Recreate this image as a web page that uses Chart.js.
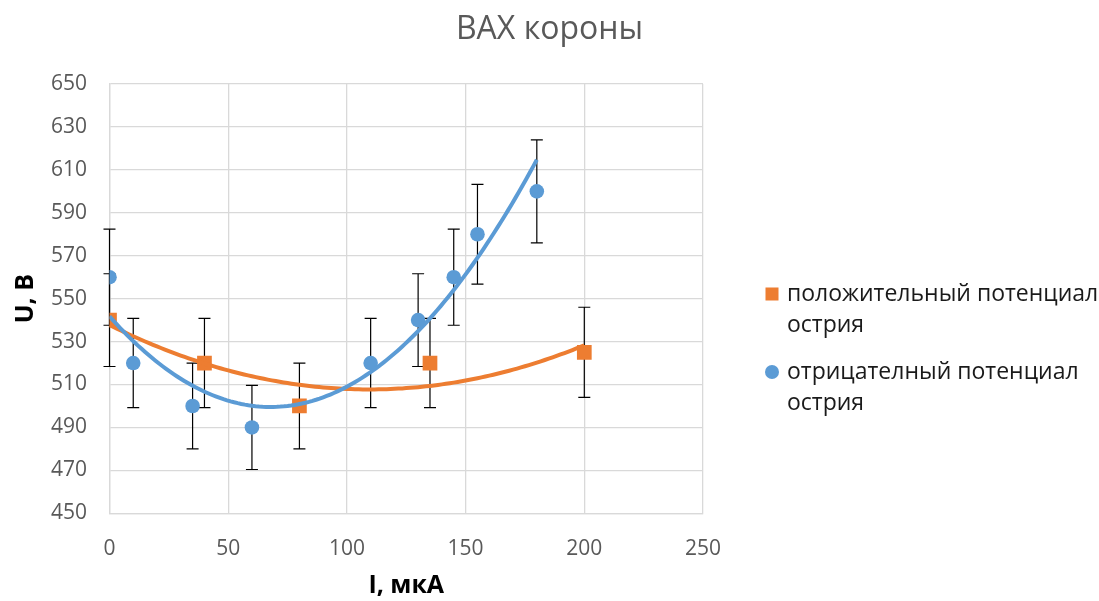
<!DOCTYPE html>
<html>
<head>
<meta charset="utf-8">
<script src="https://cdn.jsdelivr.net/npm/chart.js@4.4.1/dist/chart.umd.min.js"></script>
<style>
  html, body { margin: 0; padding: 0; background: #ffffff; }
  #wrap { width: 1099px; height: 601px; }
</style>
</head>
<body>
<div id="wrap"><canvas id="c" width="1099" height="601"></canvas></div>
<script>
// ---- data ----
const chartTitle = 'ВАХ короны';
const xAxisTitle = 'I, мкА';
const yAxisTitle = 'U, В';

const posLabel = ['положительный потенциал', 'острия'];
const posI = [0, 40, 80, 135, 200];
const posU = [540, 520, 500, 520, 525];
const posErr = [21.6, 20.8, 20, 20.8, 21];

const negLabel = ['отрицателный потенциал', 'острия'];
const negI = [0, 10, 35, 60, 110, 130, 145, 155, 180];
const negU = [560, 520, 500, 490, 520, 540, 560, 580, 600];
const negErr = [22.4, 20.8, 20, 19.6, 20.8, 21.6, 22.4, 23.2, 24];

const xMin = 0, xMax = 250, xStep = 50;
const yMin = 450, yMax = 650, yStep = 20;

const orange = '#ED7D31';
const blue = '#5B9BD5';
const FONT = "'Open Sans', 'Noto Sans', sans-serif";

// ---- polynomial (order 2) least-squares trendline, as in the spreadsheet ----
function polyFit2(xs, ys) {
  let s = [0,0,0,0,0], t = [0,0,0];
  for (let i = 0; i < xs.length; i++) {
    const x = xs[i], y = ys[i];
    let p = 1;
    for (let k = 0; k < 5; k++) { s[k] += p; if (k < 3) t[k] += p * y; p *= x; }
  }
  const A = [[s[0], s[1], s[2], t[0]], [s[1], s[2], s[3], t[1]], [s[2], s[3], s[4], t[2]]];
  for (let i = 0; i < 3; i++) {
    let m = i;
    for (let r = i + 1; r < 3; r++) if (Math.abs(A[r][i]) > Math.abs(A[m][i])) m = r;
    [A[i], A[m]] = [A[m], A[i]];
    for (let r = 0; r < 3; r++) {
      if (r === i) continue;
      const f = A[r][i] / A[i][i];
      for (let c = i; c < 4; c++) A[r][c] -= f * A[i][c];
    }
  }
  return [A[0][3] / A[0][0], A[1][3] / A[1][1], A[2][3] / A[2][2]];
}
function trendPoints(xs, ys) {
  const c = polyFit2(xs, ys);
  const x0 = Math.min(...xs), x1 = Math.max(...xs);
  const pts = [];
  const n = 120;
  for (let i = 0; i <= n; i++) {
    const x = x0 + (x1 - x0) * i / n;
    pts.push({ x: x, y: c[0] + c[1] * x + c[2] * x * x });
  }
  return pts;
}
const toPts = (xs, ys) => xs.map((x, i) => ({ x: x, y: ys[i] }));

// ---- plugins ----
const errorBars = {
  id: 'errorBars',
  beforeDatasetsDraw(chart) {
    const ctx = chart.ctx, xs = chart.scales.x, ys = chart.scales.y;
    ctx.save();
    ctx.strokeStyle = '#000000';
    ctx.lineWidth = 1.2;
    chart.data.datasets.forEach(ds => {
      if (!ds.errors) return;
      ds.data.forEach((p, i) => {
        const e = ds.errors[i];
        const px = xs.getPixelForValue(p.x);
        const top = ys.getPixelForValue(p.y + e);
        const bot = ys.getPixelForValue(p.y - e);
        const cap = 6;
        ctx.beginPath();
        ctx.moveTo(px, top); ctx.lineTo(px, bot);
        ctx.moveTo(px - cap, top); ctx.lineTo(px + cap, top);
        ctx.moveTo(px - cap, bot); ctx.lineTo(px + cap, bot);
        ctx.stroke();
      });
    });
    ctx.restore();
  }
};

const sideLegend = {
  id: 'sideLegend',
  afterDraw(chart) {
    const ctx = chart.ctx;
    const items = chart.data.datasets.filter(ds => ds.legendIndex !== undefined)
      .sort((a, b) => a.legendIndex - b.legendIndex);
    const x0 = 772, textX = 787;
    const firstY = 294, lineH = 31, gap = 16;
    let y = firstY;
    ctx.save();
    ctx.font = '23px ' + FONT;
    ctx.textBaseline = 'middle';
    ctx.textAlign = 'left';
    items.forEach(ds => {
      ctx.fillStyle = ds.backgroundColor;
      if (ds.pointStyle === 'rect') {
        ctx.fillRect(x0 - 6.5, y - 6.5, 13, 13);
      } else {
        ctx.beginPath(); ctx.arc(x0, y, 7, 0, Math.PI * 2); ctx.fill();
      }
      ctx.fillStyle = '#1a1a1a';
      const lines = Array.isArray(ds.label) ? ds.label : [ds.label];
      lines.forEach((ln, k) => ctx.fillText(ln, textX, y + k * lineH));
      y += lines.length * lineH + gap;
    });
    ctx.restore();
  }
};

const chart = new Chart(document.getElementById('c'), {
  type: 'scatter',
  data: {
    datasets: [
      {
        label: 'trend-neg', data: trendPoints(negI, negU), showLine: true,
        borderColor: blue, borderWidth: 4, pointRadius: 0, order: 0, tension: 0
      },
      {
        label: 'trend-pos', data: trendPoints(posI, posU), showLine: true,
        borderColor: orange, borderWidth: 4, pointRadius: 0, order: 1, tension: 0
      },
      {
        label: negLabel, data: toPts(negI, negU), errors: negErr, legendIndex: 1,
        backgroundColor: blue, borderColor: blue, borderWidth: 0,
        pointStyle: 'circle', pointRadius: 7.3, order: 2
      },
      {
        label: posLabel, data: toPts(posI, posU), errors: posErr, legendIndex: 0,
        backgroundColor: orange, borderColor: orange, borderWidth: 0,
        pointStyle: 'rect', pointRadius: 10.4, order: 3
      }
    ]
  },
  options: {
    responsive: false,
    animation: false,
    layout: { padding: { left: 0, right: 0, top: 0, bottom: 0 } },
    plugins: {
      legend: { display: false },
      tooltip: { enabled: false },
      title: {
        display: true, text: chartTitle, color: '#595959',
        font: { family: FONT, size: 32, weight: 'normal', lineHeight: 1.2 },
        padding: { top: 11, bottom: 34.6 }
      }
    },
    scales: {
      x: {
        type: 'linear', min: xMin, max: xMax,
        afterFit(s) { s.height = 87.7; },
        ticks: { stepSize: xStep, color: '#595959', padding: 23,
                 font: { family: FONT, size: 21, lineHeight: 1.2 } },
        grid: { color: '#d9d9d9', lineWidth: 1.3, drawTicks: false },
        border: { color: '#d9d9d9', width: 1.3 },
        title: { display: true, text: xAxisTitle, color: '#000000',
                 font: { family: FONT, size: 25, weight: 'bold', lineHeight: 1.2 },
                 padding: { top: 0, bottom: 0 } }
      },
      y: {
        type: 'linear', min: yMin, max: yMax,
        afterFit(s) { s.width = 109.5; },
        ticks: { stepSize: yStep, color: '#595959', padding: 22.5,
                 font: { family: FONT, size: 21, lineHeight: 1.2 } },
        grid: { color: '#d9d9d9', lineWidth: 1.3, drawTicks: false },
        border: { color: '#d9d9d9', width: 1.3 },
        title: { display: true, text: yAxisTitle, color: '#000000',
                 font: { family: FONT, size: 25, weight: 'bold', lineHeight: 1.2 },
                 padding: { top: 11, bottom: 0 } }
      },
      legendSpace: {
        type: 'linear', position: 'right', min: yMin, max: yMax,
        afterFit(s) { s.width = 396; },
        ticks: { display: false },
        grid: { display: false, drawOnChartArea: false },
        border: { display: false },
        title: { display: false }
      }
    }
  },
  plugins: [errorBars, sideLegend]
});
</script>
</body>
</html>
